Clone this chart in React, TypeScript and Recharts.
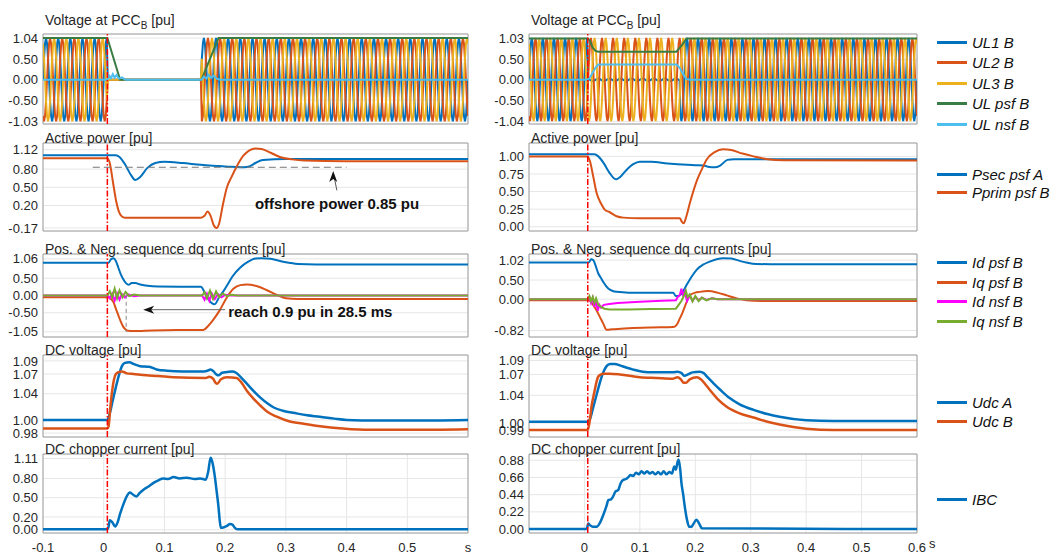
import React from 'react';
import {
  LineChart,
  Line,
  XAxis,
  YAxis,
  CartesianGrid,
  ReferenceLine,
  ReferenceArea,
  ReferenceDot,
} from 'recharts';

type Pt = [number, number];

const FONT = '"Liberation Sans", Arial, Helvetica, sans-serif';
const TXT = '#262626';

// MATLAB-like colours
const BLUE = '#0072BD';
const ORANGE = '#D95319';
const YELLOW = '#EDB120';
const DGREEN = '#3A7D44';
const LBLUE = '#4DBEEE';
const MAGENTA = '#FF00FF';
const GREEN = '#77AC30';

const X_TICKS = [-0.1, 0, 0.1, 0.2, 0.3, 0.4, 0.5, 0.6];
const FAULT_T = 0.006;

// ---- voltage waveforms: one 50 Hz cycle (12 samples) per phase ----
const ul1Cycle = [0, 0.52, 0.9, 1.04, 0.9, 0.52, 0, -0.52, -0.9, -1.03, -0.9, -0.52];
const ul2Cycle = [-0.9, -1.03, -0.9, -0.52, 0, 0.52, 0.9, 1.04, 0.9, 0.52, 0, -0.52];
const ul3Cycle = [0.9, 0.52, 0, -0.52, -0.9, -1.03, -0.9, -0.52, 0, 0.52, 0.9, 1.04];
// fault window and residual phase gain during it
const faultLeft = [0.006, 0.161];
const gainLeft = [0, 0, 0];
const faultRight = [0.006, 0.172];
const gainRight = [0.03, 1, 1];

const ulPsfLeft: Pt[] = [[-0.1, 1.04], [0.006, 1.04], [0.027, 0.0], [0.161, 0.0], [0.189, 1.04], [0.6, 1.04]];
const ulNsfLeft: Pt[] = [
  [-0.1, 0], [0.006, 0], [0.009, 0.1], [0.012, 0.04], [0.015, 0.14], [0.018, 0.05], [0.021, 0.12],
  [0.025, 0.03], [0.03, 0.06], [0.036, 0], [0.161, 0], [0.165, 0.08], [0.169, 0.03], [0.173, 0.12],
  [0.177, 0.05], [0.181, 0.1], [0.186, 0.03], [0.192, 0], [0.6, 0],
];
const ulPsfRight: Pt[] = [
  [-0.1, 1.03], [0.006, 1.03], [0.01, 0.97], [0.015, 0.8], [0.02, 0.72], [0.025, 0.7], [0.166, 0.7],
  [0.172, 0.8], [0.178, 0.9], [0.184, 1.03], [0.6, 1.03],
];
const ulNsfRight: Pt[] = [
  [-0.1, 0], [0.006, 0], [0.01, 0.06], [0.015, 0.18], [0.02, 0.3], [0.025, 0.38], [0.166, 0.38],
  [0.172, 0.3], [0.178, 0.14], [0.184, 0.02], [0.19, 0], [0.6, 0],
];

// ---- active power ----
const psecLeft: Pt[] = [
  [-0.1, 1.03], [0.02, 1.03], [0.026, 1.0], [0.035, 0.88], [0.045, 0.7], [0.052, 0.62], [0.06, 0.67],
  [0.072, 0.82], [0.085, 0.9], [0.1, 0.92], [0.13, 0.9], [0.16, 0.87], [0.19, 0.85], [0.205, 0.84],
  [0.225, 0.83], [0.238, 0.84], [0.25, 0.9], [0.262, 0.95], [0.3, 0.965], [0.6, 0.965],
];
const pprimLeft: Pt[] = [
  [-0.1, 0.98], [0.006, 0.98], [0.01, 0.9], [0.015, 0.6], [0.02, 0.3], [0.025, 0.1], [0.03, 0.02],
  [0.035, 0.0], [0.16, 0.0], [0.166, 0.03], [0.171, 0.1], [0.176, 0.03], [0.181, -0.12], [0.186, -0.17],
  [0.19, -0.1], [0.196, 0.2], [0.203, 0.5], [0.21, 0.66], [0.22, 0.86], [0.23, 1.02], [0.24, 1.11],
  [0.25, 1.14], [0.26, 1.13], [0.275, 1.07], [0.29, 1.0], [0.31, 0.96], [0.33, 0.94], [0.4, 0.93], [0.6, 0.93],
];
const psecRight: Pt[] = [
  [-0.1, 1.03], [0.018, 1.03], [0.025, 1.0], [0.035, 0.9], [0.045, 0.77], [0.053, 0.69], [0.058, 0.675],
  [0.065, 0.71], [0.075, 0.8], [0.088, 0.89], [0.1, 0.925], [0.12, 0.925], [0.15, 0.9], [0.185, 0.88],
  [0.2, 0.875], [0.215, 0.87], [0.225, 0.85], [0.235, 0.845], [0.245, 0.87], [0.258, 0.95], [0.27, 0.96],
  [0.6, 0.96],
];
const pprimRight: Pt[] = [
  [-0.1, 1.0], [0.006, 1.0], [0.01, 0.93], [0.015, 0.75], [0.022, 0.48], [0.03, 0.33], [0.037, 0.24],
  [0.045, 0.21], [0.058, 0.15], [0.07, 0.13], [0.1, 0.12], [0.14, 0.12], [0.172, 0.12], [0.176, 0.07],
  [0.179, 0.05], [0.184, 0.15], [0.19, 0.33], [0.203, 0.66], [0.212, 0.82], [0.22, 0.95], [0.235, 1.06],
  [0.25, 1.1], [0.265, 1.09], [0.285, 1.04], [0.305, 1.0], [0.33, 0.96], [0.36, 0.945], [0.6, 0.94],
];

// ---- dq currents ----
const idPsfLeft: Pt[] = [
  [-0.1, 0.95], [0.008, 0.95], [0.012, 1.05], [0.016, 1.08], [0.02, 1.0], [0.024, 0.81], [0.028, 0.62],
  [0.032, 0.48], [0.037, 0.35], [0.041, 0.31], [0.046, 0.36], [0.052, 0.36], [0.06, 0.32], [0.072, 0.28],
  [0.09, 0.26], [0.16, 0.25], [0.166, 0.1], [0.172, -0.1], [0.178, -0.22], [0.183, -0.25], [0.19, -0.05],
  [0.197, 0.12], [0.203, 0.29], [0.212, 0.55], [0.225, 0.81], [0.238, 0.98], [0.25, 1.07], [0.26, 1.08],
  [0.275, 1.06], [0.29, 1.0], [0.305, 0.95], [0.32, 0.91], [0.35, 0.9], [0.6, 0.9],
];
const iqPsfLeft: Pt[] = [
  [-0.1, -0.05], [0.008, -0.05], [0.012, -0.1], [0.016, -0.19], [0.02, -0.38], [0.024, -0.57],
  [0.028, -0.75], [0.032, -0.9], [0.036, -0.98], [0.04, -1.02], [0.05, -1.03], [0.08, -1.01], [0.12, -1.0],
  [0.164, -1.0], [0.172, -0.88], [0.18, -0.71], [0.191, -0.43], [0.203, -0.05], [0.214, 0.2], [0.225, 0.3],
  [0.236, 0.32], [0.25, 0.28], [0.268, 0.16], [0.285, 0.02], [0.3, -0.08], [0.32, -0.1], [0.6, -0.1],
];
const idNsfLeft: Pt[] = [
  [-0.1, 0], [0.006, 0], [0.01, -0.08], [0.014, 0.05], [0.018, -0.15], [0.022, 0.06], [0.026, -0.12],
  [0.03, 0.04], [0.035, -0.06], [0.04, 0.03], [0.05, -0.02], [0.06, 0], [0.162, 0], [0.166, -0.12],
  [0.17, 0.05], [0.174, -0.15], [0.178, 0.06], [0.183, -0.1], [0.188, 0.04], [0.194, -0.05], [0.2, 0.02],
  [0.21, 0], [0.6, 0],
];
const iqNsfLeft: Pt[] = [
  [-0.1, 0], [0.006, 0], [0.01, 0.12], [0.014, -0.05], [0.018, 0.2], [0.022, -0.08], [0.026, 0.15],
  [0.031, -0.05], [0.036, 0.1], [0.042, -0.02], [0.05, 0.03], [0.06, 0], [0.162, 0], [0.166, 0.1],
  [0.17, -0.08], [0.175, 0.14], [0.18, -0.1], [0.185, 0.12], [0.19, -0.05], [0.196, 0.06], [0.203, -0.02],
  [0.21, 0.02], [0.22, 0], [0.6, 0],
];
const idPsfRight: Pt[] = [
  [-0.1, 0.96], [0.008, 0.96], [0.012, 1.04], [0.016, 1.02], [0.02, 0.88], [0.025, 0.67], [0.03, 0.55],
  [0.034, 0.45], [0.043, 0.28], [0.05, 0.22], [0.058, 0.19], [0.08, 0.17], [0.16, 0.17], [0.165, 0.08],
  [0.172, 0.1], [0.178, 0.2], [0.184, 0.36], [0.193, 0.58], [0.202, 0.76], [0.214, 0.9], [0.226, 0.98],
  [0.24, 1.05], [0.25, 1.07], [0.265, 1.06], [0.28, 1.0], [0.292, 0.96], [0.31, 0.92], [0.35, 0.91],
  [0.6, 0.91],
];
const iqPsfRight: Pt[] = [
  [-0.1, -0.03], [0.008, -0.03], [0.012, -0.08], [0.016, -0.16], [0.022, -0.3], [0.028, -0.47],
  [0.034, -0.64], [0.04, -0.8], [0.05, -0.79], [0.08, -0.76], [0.12, -0.74], [0.16, -0.73], [0.166, -0.68],
  [0.172, -0.51], [0.177, -0.35], [0.181, -0.2], [0.186, -0.02], [0.19, 0.1], [0.2, 0.17], [0.208, 0.19],
  [0.223, 0.21], [0.24, 0.17], [0.256, 0.1], [0.275, 0.02], [0.292, -0.03], [0.32, -0.05], [0.6, -0.05],
];
const idNsfRight: Pt[] = [
  [-0.1, 0], [0.006, 0], [0.009, 0.05], [0.012, -0.1], [0.015, 0.03], [0.018, -0.2], [0.021, -0.05],
  [0.024, -0.3], [0.027, -0.15], [0.03, -0.22], [0.035, -0.15], [0.045, -0.13], [0.06, -0.1], [0.1, -0.07],
  [0.14, -0.04], [0.165, -0.03], [0.168, 0.05], [0.172, 0.1], [0.175, 0.27], [0.178, 0.1], [0.181, 0.2],
  [0.185, -0.05], [0.19, 0.1], [0.195, -0.05], [0.2, 0.06], [0.206, -0.03], [0.212, 0.04], [0.22, -0.02],
  [0.23, 0.02], [0.24, 0], [0.6, 0],
];
const iqNsfRight: Pt[] = [
  [-0.1, 0], [0.006, 0], [0.009, 0.08], [0.012, -0.05], [0.015, 0.06], [0.018, -0.1], [0.021, 0.02],
  [0.025, -0.15], [0.03, -0.2], [0.036, -0.25], [0.045, -0.27], [0.08, -0.27], [0.12, -0.26], [0.165, -0.25],
  [0.17, -0.15], [0.175, -0.05], [0.18, 0.1], [0.183, 0.22], [0.186, 0.05], [0.19, 0.12], [0.195, -0.06],
  [0.2, 0.08], [0.206, -0.05], [0.212, 0.04], [0.22, -0.03], [0.23, 0.02], [0.24, 0], [0.6, 0],
];

// ---- DC voltage ----
const udcALeft: Pt[] = [
  [-0.1, 1.0], [0.006, 1.0], [0.01, 1.01], [0.015, 1.03], [0.02, 1.05], [0.025, 1.068], [0.03, 1.082],
  [0.035, 1.087], [0.042, 1.088], [0.05, 1.085], [0.06, 1.082], [0.075, 1.081], [0.087, 1.077],
  [0.104, 1.075], [0.13, 1.074], [0.165, 1.074], [0.171, 1.075], [0.176, 1.077], [0.181, 1.074],
  [0.186, 1.069], [0.189, 1.068], [0.195, 1.072], [0.203, 1.073], [0.212, 1.074], [0.218, 1.072],
  [0.226, 1.065], [0.236, 1.055], [0.247, 1.044], [0.258, 1.034], [0.27, 1.025], [0.28, 1.019],
  [0.295, 1.014], [0.312, 1.011], [0.335, 1.007], [0.356, 1.005], [0.38, 1.002], [0.4, 1.0], [0.45, 0.999],
  [0.5, 0.999], [0.6, 1.0],
];
const udcBLeft: Pt[] = [
  [-0.1, 0.987], [0.006, 0.987], [0.008, 0.99], [0.011, 1.02], [0.014, 1.045], [0.017, 1.062], [0.02, 1.07],
  [0.025, 1.073], [0.03, 1.074], [0.038, 1.071], [0.049, 1.07], [0.07, 1.068], [0.09, 1.067], [0.115, 1.065],
  [0.168, 1.064], [0.174, 1.066], [0.18, 1.063], [0.184, 1.057], [0.187, 1.055], [0.193, 1.062],
  [0.203, 1.065], [0.219, 1.064], [0.226, 1.058], [0.236, 1.044], [0.247, 1.032], [0.258, 1.022],
  [0.27, 1.012], [0.285, 1.005], [0.305, 0.998], [0.324, 0.995], [0.35, 0.991], [0.378, 0.988],
  [0.43, 0.985], [0.5, 0.985], [0.6, 0.986],
];
const udcARight: Pt[] = [
  [-0.1, 1.002], [0.006, 1.002], [0.01, 1.006], [0.015, 1.02], [0.02, 1.035], [0.025, 1.05], [0.03, 1.064],
  [0.035, 1.075], [0.04, 1.082], [0.046, 1.085], [0.055, 1.085], [0.064, 1.083], [0.075, 1.08], [0.088, 1.077],
  [0.105, 1.074], [0.124, 1.073], [0.16, 1.073], [0.168, 1.074], [0.175, 1.072], [0.18, 1.068], [0.184, 1.069],
  [0.195, 1.073], [0.208, 1.074], [0.215, 1.072], [0.222, 1.066], [0.232, 1.058], [0.245, 1.048],
  [0.262, 1.036], [0.28, 1.027], [0.305, 1.019], [0.33, 1.013], [0.352, 1.009], [0.4, 1.004], [0.45, 1.003],
  [0.6, 1.003],
];
const udcBRight: Pt[] = [
  [-0.1, 0.99], [0.006, 0.99], [0.009, 1.0], [0.013, 1.025], [0.018, 1.045], [0.022, 1.06], [0.025, 1.067],
  [0.03, 1.07], [0.034, 1.071], [0.045, 1.071], [0.064, 1.07], [0.1, 1.066], [0.13, 1.065], [0.16, 1.064],
  [0.168, 1.066], [0.174, 1.063], [0.179, 1.058], [0.183, 1.058], [0.19, 1.063], [0.203, 1.066], [0.21, 1.063],
  [0.218, 1.056], [0.226, 1.048], [0.24, 1.035], [0.256, 1.024], [0.28, 1.014], [0.305, 1.008], [0.33, 1.002],
  [0.352, 0.998], [0.38, 0.994], [0.4, 0.992], [0.45, 0.99], [0.6, 0.99],
];

// ---- DC chopper current ----
const ibcLeft: Pt[] = [
  [-0.1, 0.01], [0.006, 0.01], [0.008, 0.05], [0.01, 0.15], [0.014, 0.12], [0.019, 0.05], [0.023, 0.12],
  [0.027, 0.25], [0.031, 0.36], [0.035, 0.46], [0.039, 0.54], [0.043, 0.58], [0.048, 0.55], [0.054, 0.52],
  [0.059, 0.57], [0.065, 0.62], [0.073, 0.67], [0.082, 0.73], [0.09, 0.77], [0.098, 0.8], [0.106, 0.79],
  [0.115, 0.82], [0.125, 0.8], [0.137, 0.81], [0.15, 0.79], [0.159, 0.8], [0.168, 0.78], [0.172, 0.9],
  [0.176, 1.12], [0.179, 1.05], [0.183, 0.83], [0.186, 0.6], [0.189, 0.36], [0.191, 0.15], [0.193, 0.03],
  [0.198, 0.04], [0.203, 0.06], [0.208, 0.09], [0.212, 0.08], [0.216, 0.03], [0.22, 0.01], [0.6, 0.01],
];
const ibcRight: Pt[] = [
  [-0.1, 0.0], [0.004, 0.0], [0.007, 0.07], [0.01, 0.05], [0.015, 0.03], [0.022, 0.03], [0.028, 0.08],
  [0.035, 0.2], [0.04, 0.3], [0.043, 0.37], [0.048, 0.38], [0.052, 0.42], [0.056, 0.48], [0.061, 0.5],
  [0.065, 0.58], [0.07, 0.63], [0.075, 0.64], [0.08, 0.67], [0.083, 0.69], [0.088, 0.68], [0.093, 0.72],
  [0.098, 0.7], [0.103, 0.74], [0.108, 0.71], [0.113, 0.74], [0.118, 0.71], [0.123, 0.73], [0.128, 0.7],
  [0.133, 0.73], [0.138, 0.7], [0.143, 0.74], [0.148, 0.7], [0.153, 0.73], [0.158, 0.71], [0.162, 0.8],
  [0.165, 0.76], [0.168, 0.86], [0.17, 0.89], [0.173, 0.75], [0.175, 0.59], [0.178, 0.45], [0.181, 0.29],
  [0.185, 0.12], [0.189, 0.03], [0.193, 0.03], [0.197, 0.07], [0.202, 0.12], [0.207, 0.07], [0.212, 0.01],
  [0.6, 0.0],
];

// axis settings per panel
const yTicks = {
  L: [[-1.03, -0.5, 0, 0.5, 1.04], [-0.17, 0.2, 0.5, 0.8, 1.12], [-1.05, -0.5, 0, 0.5, 1.06], [0.98, 1.0, 1.04, 1.07, 1.09], [0, 0.2, 0.5, 0.8, 1.11]],
  R: [[-1.04, -0.5, 0, 0.5, 1.03], [0, 0.25, 0.5, 0.75, 1.0], [-0.82, 0, 0.5, 1.02], [0.99, 1.0, 1.04, 1.07, 1.09], [0, 0.22, 0.44, 0.66, 0.88]],
};
const yDomains = {
  L: [[-1.1, 1.14], [-0.22, 1.23], [-1.2, 1.2], [0.974, 1.099], [-0.05, 1.18]],
  R: [[-1.1, 1.14], [-0.06, 1.19], [-0.99, 1.18], [0.98, 1.098], [-0.05, 0.96]],
};

const ROWS = [
  { top: 34, h: 90 },
  { top: 143, h: 88 },
  { top: 254, h: 83 },
  { top: 355, h: 82 },
  { top: 454, h: 79 },
];
const COLS = [
  { left: 43, w: 425, mr: 10 },
  { left: 529, w: 388, mr: 26 },
];
const YW = 42;
const MT = 6;
const MB = 8;
const XH = 21;

const rows = (pts: Pt[]) => pts.map(([t, v]) => ({ t, v }));

function buildWave(cycle: number[], gain: number, fault: number[]) {
  const out: { t: number; v: number }[] = [];
  for (let k = 0; k <= 420; k++) {
    const t = -0.1 + k / 600;
    const inFault = t > fault[0] && t < fault[1];
    out.push({ t, v: cycle[k % 12] * (inFault ? gain : 1) });
  }
  return out;
}

interface Series {
  name: string;
  color: string;
  data: { t: number; v: number }[];
  width?: number;
  curve?: 'linear' | 'monotone';
}

const wavesLeft: Series[] = [
  { name: 'UL1 B', color: BLUE, data: buildWave(ul1Cycle, gainLeft[0], faultLeft), curve: 'linear' },
  { name: 'UL2 B', color: ORANGE, data: buildWave(ul2Cycle, gainLeft[1], faultLeft), curve: 'linear' },
  { name: 'UL3 B', color: YELLOW, data: buildWave(ul3Cycle, gainLeft[2], faultLeft), curve: 'linear' },
  { name: 'UL psf B', color: DGREEN, data: rows(ulPsfLeft), curve: 'linear' },
  { name: 'UL nsf B', color: LBLUE, data: rows(ulNsfLeft), curve: 'linear' },
];
const wavesRight: Series[] = [
  { name: 'UL1 B', color: BLUE, data: buildWave(ul1Cycle, gainRight[0], faultRight), curve: 'linear' },
  { name: 'UL2 B', color: ORANGE, data: buildWave(ul2Cycle, gainRight[1], faultRight), curve: 'linear' },
  { name: 'UL3 B', color: YELLOW, data: buildWave(ul3Cycle, gainRight[2], faultRight), curve: 'linear' },
  { name: 'UL psf B', color: DGREEN, data: rows(ulPsfRight), curve: 'linear' },
  { name: 'UL nsf B', color: LBLUE, data: rows(ulNsfRight), curve: 'linear' },
];
const powerLeft: Series[] = [
  { name: 'Psec psf A', color: BLUE, data: rows(psecLeft) },
  { name: 'Pprim psf B', color: ORANGE, data: rows(pprimLeft) },
];
const powerRight: Series[] = [
  { name: 'Psec psf A', color: BLUE, data: rows(psecRight) },
  { name: 'Pprim psf B', color: ORANGE, data: rows(pprimRight) },
];
const dqLeft: Series[] = [
  { name: 'Id psf B', color: BLUE, data: rows(idPsfLeft) },
  { name: 'Iq psf B', color: ORANGE, data: rows(iqPsfLeft) },
  { name: 'Id nsf B', color: MAGENTA, data: rows(idNsfLeft), curve: 'linear' },
  { name: 'Iq nsf B', color: GREEN, data: rows(iqNsfLeft), curve: 'linear' },
];
const dqRight: Series[] = [
  { name: 'Id psf B', color: BLUE, data: rows(idPsfRight) },
  { name: 'Iq psf B', color: ORANGE, data: rows(iqPsfRight) },
  { name: 'Id nsf B', color: MAGENTA, data: rows(idNsfRight), curve: 'linear' },
  { name: 'Iq nsf B', color: GREEN, data: rows(iqNsfRight), curve: 'linear' },
];
const dcLeft: Series[] = [
  { name: 'Udc A', color: BLUE, data: rows(udcALeft), width: 2.5 },
  { name: 'Udc B', color: ORANGE, data: rows(udcBLeft), width: 2.5 },
];
const dcRight: Series[] = [
  { name: 'Udc A', color: BLUE, data: rows(udcARight), width: 2.5 },
  { name: 'Udc B', color: ORANGE, data: rows(udcBRight), width: 2.5 },
];
const chopLeft: Series[] = [{ name: 'IBC', color: BLUE, data: rows(ibcLeft), width: 2.5 }];
const chopRight: Series[] = [{ name: 'IBC', color: BLUE, data: rows(ibcRight), width: 2.5 }];

// legend rows (centre y of first entry, spacing)
const legendRows = [
  { y0: 42, gap: 20.4 },
  { y0: 174, gap: 17.7 },
  { y0: 262, gap: 19.6 },
  { y0: 401.5, gap: 19.4 },
  { y0: 499, gap: 0 },
];

const ArrowUp = (p: any) => (
  <polygon
    points={`${p.cx},${p.cy} ${p.cx - 4},${p.cy + 11} ${p.cx},${p.cy + 8} ${p.cx + 4},${p.cy + 11}`}
    fill="#111"
  />
);
const ArrowLeft = (p: any) => (
  <polygon
    points={`${p.cx},${p.cy} ${p.cx + 11},${p.cy - 4} ${p.cx + 8},${p.cy} ${p.cx + 11},${p.cy + 4}`}
    fill="#111"
  />
);
const note = (text: string) => (p: any) => (
  <text x={p.cx} y={p.cy} dominantBaseline="central" fontSize={15} fontWeight={700} fontFamily={FONT} fill="#111">
    {text}
  </text>
);

interface PanelProps {
  col: number;
  row: number;
  title: React.ReactNode;
  titleUp: number;
  series: Series[];
  xAxis?: 'left' | 'right';
  extras?: React.ReactElement[];
}

function Panel({ col, row, title, titleUp, series, xAxis, extras }: PanelProps) {
  const c = COLS[col];
  const r = ROWS[row];
  const side = col === 0 ? 'L' : 'R';
  const domain = yDomains[side][row] as [number, number];
  const ticks = yTicks[side][row];
  const xh = xAxis ? XH : 0;
  const mb = xAxis ? 0 : MB;
  return (
    <>
      <div style={{ position: 'absolute', left: c.left - YW, top: r.top - MT }}>
        <LineChart
          width={YW + c.w + c.mr}
          height={MT + r.h + xh + mb}
          margin={{ top: MT, right: c.mr, left: 0, bottom: mb }}
        >
          <CartesianGrid stroke="#e6e6e6" />
          <XAxis
            type="number"
            dataKey="t"
            domain={[-0.1, 0.6]}
            ticks={X_TICKS}
            interval={0}
            allowDataOverflow
            height={xh}
            axisLine={false}
            tickLine={false}
            tickSize={0}
            tickMargin={10}
            tick={xAxis ? { fontSize: 13, fill: TXT, fontFamily: FONT } : false}
            tickFormatter={(v: number) =>
              xAxis === 'left' ? (v === 0.6 ? 's' : String(v)) : v === -0.1 ? '' : String(v)
            }
            label={
              xAxis === 'right'
                ? { value: 's', position: 'right', offset: 12, fontSize: 13, fill: TXT, fontFamily: FONT }
                : undefined
            }
          />
          <YAxis
            type="number"
            domain={domain}
            ticks={ticks}
            interval={0}
            allowDataOverflow
            width={YW}
            axisLine={false}
            tickLine={false}
            tickSize={0}
            tickMargin={5}
            tick={{ fontSize: 13, fill: TXT, fontFamily: FONT }}
            tickFormatter={(v: number) => v.toFixed(2)}
          />
          {series.map((s) => (
            <Line
              key={s.name}
              data={s.data}
              dataKey="v"
              name={s.name}
              type={s.curve ?? 'monotone'}
              stroke={s.color}
              strokeWidth={s.width ?? 2}
              dot={false}
              isAnimationActive={false}
            />
          ))}
          <ReferenceLine x={FAULT_T} stroke="#FF0000" strokeWidth={1.5} strokeDasharray="6 2 1.5 2" />
          <ReferenceArea
            x1={-0.1}
            x2={0.6}
            y1={domain[0]}
            y2={domain[1]}
            fill="none"
            fillOpacity={0}
            stroke="#a0a0a0"
            strokeWidth={1}
            ifOverflow="visible"
          />
          {extras}
        </LineChart>
      </div>
      <div
        style={{
          position: 'absolute',
          left: c.left + 2,
          top: r.top - titleUp,
          fontSize: 14,
          lineHeight: '14px',
          color: TXT,
          fontFamily: FONT,
          whiteSpace: 'nowrap',
        }}
      >
        {title}
      </div>
    </>
  );
}

function LegendBlock({ series, row }: { series: Series[]; row: number }) {
  const lr = legendRows[row];
  return (
    <>
      {series.map((s, i) => (
        <div
          key={s.name}
          style={{
            position: 'absolute',
            left: 937,
            top: Math.round(lr.y0 + i * lr.gap - 9),
            height: 18,
            display: 'flex',
            alignItems: 'center',
            fontFamily: FONT,
            fontStyle: 'italic',
            fontSize: 15,
            color: '#111',
            whiteSpace: 'nowrap',
          }}
        >
          <span style={{ display: 'inline-block', width: 30, height: 3, background: s.color, marginRight: 5 }} />
          {s.name}
        </div>
      ))}
    </>
  );
}

const voltTitle = (
  <span>
    Voltage at PCC<sub style={{ fontSize: 10, verticalAlign: -4 }}>B</sub> [pu]
  </span>
);

export default function App() {
  const p2Extras = [
    <ReferenceLine
      key="dash"
      segment={[{ x: -0.018, y: 0.83 }, { x: 0.4, y: 0.83 }]}
      stroke="#777"
      strokeDasharray="7 4"
      strokeWidth={1}
    />,
    <ReferenceLine
      key="shaft"
      segment={[{ x: 0.384, y: 0.45 }, { x: 0.379, y: 0.7 }]}
      stroke="#555"
      strokeWidth={1}
    />,
    <ReferenceDot key="head" x={0.378} y={0.77} r={1} shape={ArrowUp} />,
    <ReferenceDot key="txt" x={0.249} y={0.235} r={1} shape={note('offshore power 0.85 pu')} />,
  ];
  const p3Extras = [
    <ReferenceLine
      key="vdash"
      segment={[{ x: 0.037, y: 0.02 }, { x: 0.037, y: -1.05 }]}
      stroke="#888"
      strokeDasharray="4 3"
      strokeWidth={1}
    />,
    <ReferenceLine
      key="shaft"
      segment={[{ x: 0.2, y: -0.41 }, { x: 0.072, y: -0.41 }]}
      stroke="#666"
      strokeWidth={1}
    />,
    <ReferenceDot key="head" x={0.065} y={-0.41} r={1} shape={ArrowLeft} />,
    <ReferenceDot key="txt" x={0.205} y={-0.47} r={1} shape={note('reach 0.9 pu in 28.5 ms')} />,
  ];

  return (
    <div
      style={{
        position: 'absolute',
        left: 0,
        top: 0,
        width: 1064,
        height: 554,
        background: '#fff',
        overflow: 'hidden',
        fontFamily: FONT,
      }}
    >
      <Panel col={0} row={0} title={voltTitle} titleUp={21} series={wavesLeft} />
      <Panel col={0} row={1} title="Active power [pu]" titleUp={12} series={powerLeft} extras={p2Extras} />
      <Panel col={0} row={2} title="Pos. & Neg. sequence dq currents [pu]" titleUp={12} series={dqLeft} extras={p3Extras} />
      <Panel col={0} row={3} title="DC voltage [pu]" titleUp={12} series={dcLeft} />
      <Panel col={0} row={4} title="DC chopper current [pu]" titleUp={12} series={chopLeft} xAxis="left" />

      <Panel col={1} row={0} title={voltTitle} titleUp={21} series={wavesRight} />
      <Panel col={1} row={1} title="Active power [pu]" titleUp={12} series={powerRight} />
      <Panel col={1} row={2} title="Pos. & Neg. sequence dq currents [pu]" titleUp={12} series={dqRight} />
      <Panel col={1} row={3} title="DC voltage [pu]" titleUp={12} series={dcRight} />
      <Panel col={1} row={4} title="DC chopper current [pu]" titleUp={12} series={chopRight} xAxis="right" />

      <LegendBlock series={wavesRight} row={0} />
      <LegendBlock series={powerRight} row={1} />
      <LegendBlock series={dqRight} row={2} />
      <LegendBlock series={dcRight} row={3} />
      <LegendBlock series={chopRight} row={4} />
    </div>
  );
}
